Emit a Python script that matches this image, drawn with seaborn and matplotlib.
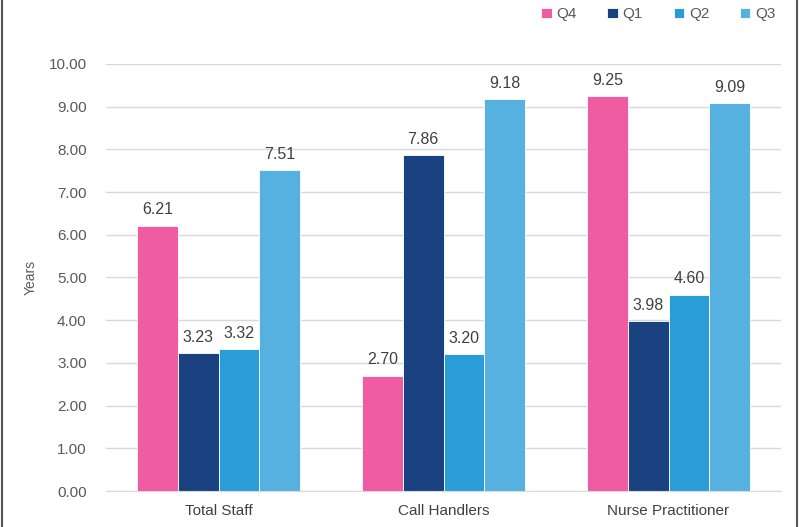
import pandas as pd
import matplotlib.pyplot as plt
from matplotlib.lines import Line2D
import seaborn as sns

# data
categories = ['Total Staff', 'Call Handlers', 'Nurse Practitioner']
quarters = ['Q4', 'Q1', 'Q2', 'Q3']
q4 = [6.21, 2.70, 9.25]
q1 = [3.23, 7.86, 3.98]
q2 = [3.32, 3.20, 4.60]
q3 = [7.51, 9.18, 9.09]
colors = ['#F05CA2', '#1A4281', '#2A9DD9', '#57B1E0']

rows = []
for q, vals in zip(quarters, [q4, q1, q2, q3]):
    for c, v in zip(categories, vals):
        rows.append({'Category': c, 'Quarter': q, 'Years': v})
df = pd.DataFrame(rows)

sns.set_style('white')
plt.rcParams['font.family'] = ['Liberation Sans', 'DejaVu Sans']

fig = plt.figure(figsize=(7.99, 5.27), dpi=100)
ax = fig.add_axes([0.1327, 0.0683, 0.8448, 0.8103])

sns.barplot(data=df, x='Category', y='Years', hue='Quarter', order=categories,
            hue_order=quarters, palette=colors, width=0.725, gap=0,
            edgecolor='white', linewidth=0.6, saturation=1, ax=ax)

for cont in ax.containers:
    ax.bar_label(cont, fmt='%.2f', padding=6, fontsize=11.5, color='#404040')

ax.set_ylim(0, 10)
ax.set_yticks([i for i in range(11)])
ax.set_yticklabels(['%.2f' % i for i in range(11)])
ax.yaxis.grid(True, color='#D9D9D9', linewidth=1)
ax.set_axisbelow(True)
for s in ['top', 'right', 'left']:
    ax.spines[s].set_visible(False)
ax.spines['bottom'].set_color('#D9D9D9')
ax.tick_params(axis='both', length=0, labelsize=11, colors='#595959')
ax.tick_params(axis='y', pad=14)
ax.tick_params(axis='x', pad=9, labelcolor='#404040')
ax.set_xlabel('')
ax.set_ylabel('Years', fontsize=10, color='#595959', labelpad=8)

leg = ax.legend(loc='upper right', bbox_to_anchor=(1.012, 1.165), ncol=4, frameon=False,
                fontsize=11, handlelength=0.7, handleheight=0.7, handletextpad=0.3,
                columnspacing=2.0)
for t in leg.get_texts():
    t.set_color('#595959')

# outer frame edges
fig.add_artist(Line2D([0.003, 0.003], [0, 1], color='#555555', linewidth=1.5, transform=fig.transFigure))
fig.add_artist(Line2D([0.997, 0.997], [0, 1], color='#555555', linewidth=1.5, transform=fig.transFigure))

fig.savefig('out.png', dpi=100)
